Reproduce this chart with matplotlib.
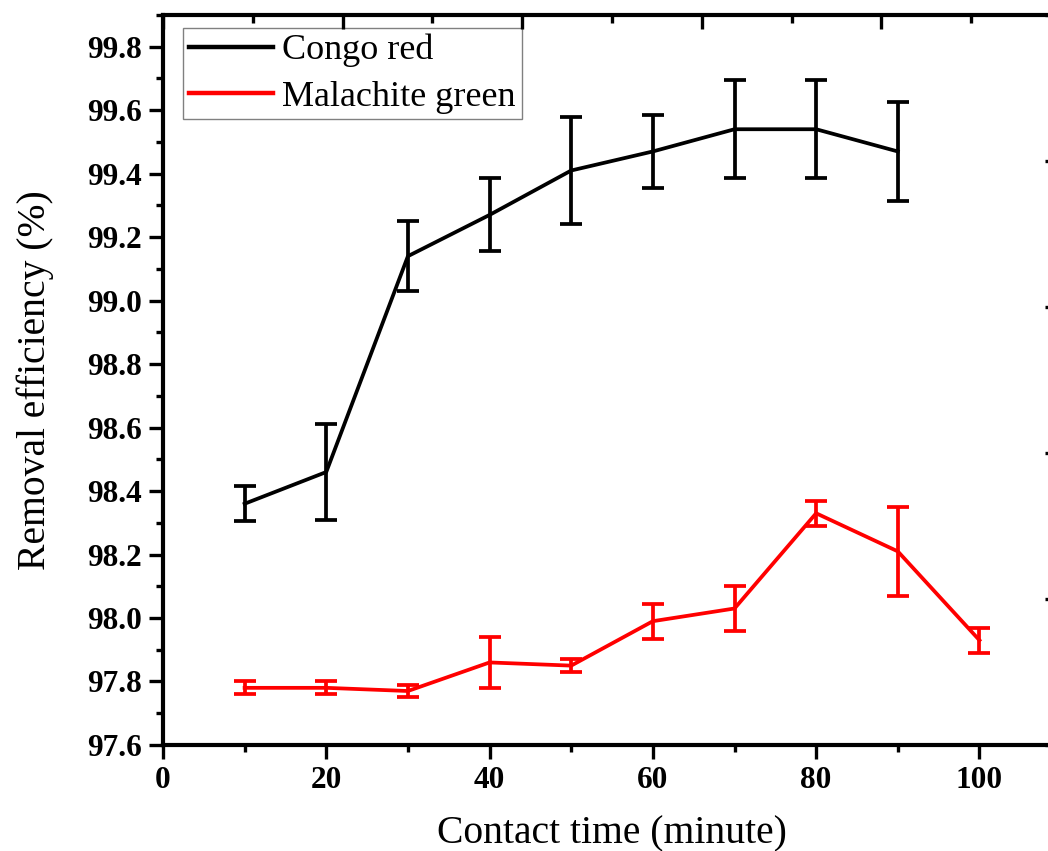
import numpy as np
import matplotlib.pyplot as plt
from matplotlib.ticker import MultipleLocator

plt.rcParams['font.family'] = ['Liberation Serif', 'DejaVu Serif']

# contact time (minute)
time_cr = [10, 20, 30, 40, 50, 60, 70, 80, 90]
time_mg = [10, 20, 30, 40, 50, 60, 70, 80, 90, 100]

# removal efficiency (%) and error
congo_red = [98.36, 98.46, 99.14, 99.27, 99.41, 99.47, 99.54, 99.54, 99.47]
congo_red_err = [0.055, 0.15, 0.11, 0.115, 0.17, 0.115, 0.155, 0.155, 0.155]
malachite = [97.78, 97.78, 97.77, 97.86, 97.85, 97.99, 98.03, 98.33, 98.21, 97.93]
malachite_err = [0.02, 0.02, 0.02, 0.08, 0.02, 0.055, 0.07, 0.04, 0.14, 0.04]

fig = plt.figure(figsize=(10.48, 8.51), dpi=100)
ax = fig.add_axes([0.1555, 0.1246, 0.857, 0.8578])

lw = 2.7
eb_cr = ax.errorbar(time_cr, congo_red, yerr=congo_red_err, color='black', lw=lw,
                    capsize=8, capthick=lw, elinewidth=lw, label='Congo red')
eb_mg = ax.errorbar(time_mg, malachite, yerr=malachite_err, color='#ff0000', lw=lw,
                    capsize=8, capthick=lw, elinewidth=lw, label='Malachite green')

ax.set_xlim(0, 110)
ax.set_ylim(97.6, 99.9)
ax.xaxis.set_minor_locator(MultipleLocator(10))
ax.yaxis.set_minor_locator(MultipleLocator(0.1))
ax.set_yticks(np.arange(97.6, 99.81, 0.2))
ax.set_xticks(np.arange(0, 101, 20))

for s in ax.spines.values():
    s.set_linewidth(3)
ax.tick_params(which='major', direction='out', length=10, width=2.4,
               labelsize=22.5, pad=5)
ax.tick_params(which='minor', direction='out', length=5, width=2.4)
ax.tick_params(top=False, right=False, which='both')
for lab in ax.get_xticklabels() + ax.get_yticklabels():
    lab.set_fontweight('bold')

ax.set_xlabel('Contact time (minute)', fontsize=28.5, labelpad=15)
ax.set_ylabel('Removal efficiency (%)', fontsize=28.5, labelpad=24)

# secondary axes ticks along top and right
ax_top = ax.twiny()
ax_top.set_xlim(0, 100)
ax_top.xaxis.set_major_locator(MultipleLocator(20))
ax_top.xaxis.set_minor_locator(MultipleLocator(10))
ax_top.tick_params(axis='x', which='major', direction='in', length=10, width=2.4,
                   labeltop=False)
ax_top.tick_params(axis='x', which='minor', direction='in', length=6, width=2.4)
ax_top.tick_params(axis='y', left=False, right=False, labelleft=False, labelright=False)
for s in ax_top.spines.values():
    s.set_visible(False)

ax_r = ax.twinx()
ax_r.set_ylim(0, 5)
ax_r.yaxis.set_major_locator(MultipleLocator(1))
ax_r.tick_params(axis='y', which='major', direction='in', length=11.5, width=2.4,
                 labelright=False)
ax_r.tick_params(axis='y', which='minor', right=False)
for s in ax_r.spines.values():
    s.set_visible(False)

leg = ax.legend(handles=[eb_cr[0], eb_mg[0]], labels=['Congo red', 'Malachite green'],
                loc='upper left', bbox_to_anchor=(0.022, 0.982), fontsize=26,
                handlelength=2.35, handletextpad=0.25, borderpad=0.16,
                labelspacing=0.36, fancybox=False, framealpha=1,
                borderaxespad=0)
leg.get_frame().set_edgecolor('#808080')
leg.get_frame().set_linewidth(1.0)
for h in leg.legend_handles:
    h.set_linewidth(3.2)

fig.savefig('out.png', dpi=100)
